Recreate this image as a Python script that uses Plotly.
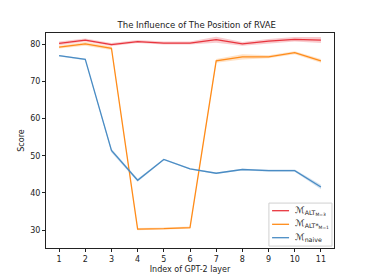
import plotly.graph_objects as go

layers = [1, 2, 3, 4, 5, 6, 7, 8, 9, 10, 11]
alt_m3 = [80.2, 81.1, 79.9, 80.7, 80.3, 80.3, 81.2, 80.1, 80.8, 81.3, 81.1]
alt_m3_err = [0.5, 0.4, 0.4, 0.4, 0.4, 0.4, 0.8, 0.5, 0.6, 0.6, 0.8]
alt_star_m1 = [79.2, 80.1, 78.9, 30.3, 30.4, 30.7, 75.5, 76.6, 76.6, 77.7, 75.5]
alt_star_err = [0.4, 0.5, 0.5, 0.3, 0.3, 0.3, 0.5, 0.7, 0.4, 0.4, 0.5]
naive = [76.9, 75.9, 51.4, 43.4, 49.0, 46.5, 45.3, 46.3, 46.0, 46.0, 41.6]
naive_err = [0.2, 0.2, 0.5, 0.4, 0.2, 0.2, 0.2, 0.2, 0.3, 0.3, 0.6]

names = ["<i>ℳ</i><sub>ALT<sub>M=3</sub></sub>",
         "<i>ℳ</i><sub>ALT*<sub>M=1</sub></sub>",
         "<i>ℳ</i><sub>naive</sub>"]
colors = ["#e8353e", "#ff8c1a", "#4a8cc4"]
fills = ["rgba(232,53,62,0.25)", "rgba(255,140,26,0.25)", "rgba(74,140,196,0.25)"]
series = [alt_m3, alt_star_m1, naive]
errs = [alt_m3_err, alt_star_err, naive_err]

fig = go.Figure()
for s, e, n, c, f in zip(series, errs, names, colors, fills):
    upper = [v + d for v, d in zip(s, e)]
    lower = [v - d for v, d in zip(s, e)]
    fig.add_trace(go.Scatter(x=layers + layers[::-1], y=upper + lower[::-1], fill="toself",
                             fillcolor=f, line=dict(width=0), hoverinfo="skip", showlegend=False))
    fig.add_trace(go.Scatter(x=layers, y=s, mode="lines", name=n, line=dict(color=c, width=1.3),
                             showlegend=False))

# custom compact legend (matplotlib style)
shapes = [dict(type="rect", xref="paper", yref="paper", x0=0.774, x1=0.993, y0=0.009, y1=0.209,
               fillcolor="rgba(255,255,255,0.85)", line=dict(color="#d0d0d0", width=1), layer="above")]
annotations = []
rows = [0.1735, 0.1102, 0.0479]
for yy, n, c in zip(rows, names, colors):
    shapes.append(dict(type="line", xref="paper", yref="paper", x0=0.785, x1=0.844, y0=yy, y1=yy,
                       line=dict(color=c, width=1.3), layer="above"))
    annotations.append(dict(xref="paper", yref="paper", x=0.856, y=yy, xanchor="left", yanchor="middle",
                            text=n, showarrow=False, font=dict(size=9, color="#222")))

axis_common = dict(showline=True, linecolor="#222", linewidth=1, mirror=True, ticks="outside",
                   ticklen=3, tickcolor="#222", showgrid=False, zeroline=False, automargin=False,
                   tickfont=dict(size=8, color="#222"))
fig.update_layout(
    width=363, height=271,
    margin=dict(l=38, r=37, t=25, b=31),
    paper_bgcolor="white", plot_bgcolor="white",
    font=dict(family="DejaVu Sans", color="#222"),
    title=dict(text="The Influence of The Position of RVAE", x=0.52, xanchor="center",
               y=0.925, yanchor="bottom", font=dict(size=8.5)),
    xaxis=dict(range=[0.5, 11.5], tickvals=layers, title=dict(text="Index of GPT-2 layer", font=dict(size=8), standoff=3), **axis_common),
    yaxis=dict(range=[25.2, 83.0], tickvals=[30, 40, 50, 60, 70, 80], title=dict(text="Score", font=dict(size=8), standoff=4), **axis_common),
    shapes=shapes,
    annotations=annotations,
    showlegend=False,
)
fig.write_html("out.html")
